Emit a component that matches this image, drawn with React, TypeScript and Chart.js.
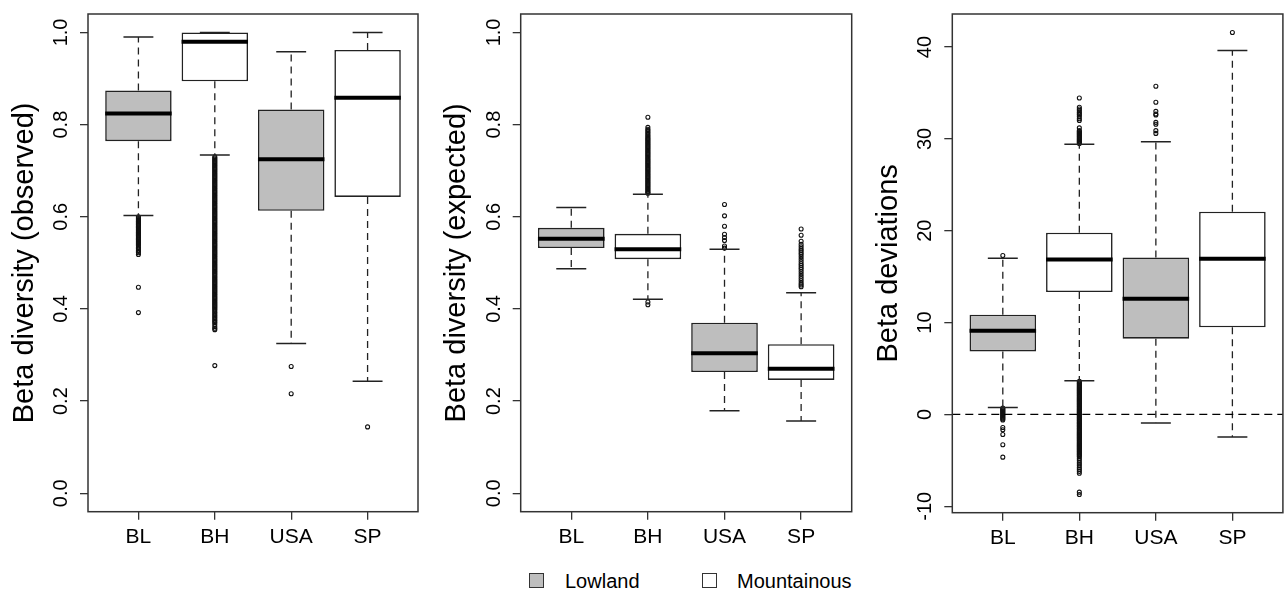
import React, { useEffect, useRef } from 'react';
import { Chart, registerables } from 'chart.js';

Chart.register(...registerables);

// ---- shared categories ----
const categories = ['BL', 'BH', 'USA', 'SP'];
const habitat = ['Lowland', 'Mountainous', 'Lowland', 'Mountainous'];
const legendLabels = ['Lowland', 'Mountainous'];
const habitatFill: Record<string, string> = { Lowland: '#BEBEBE', Mountainous: '#FFFFFF' };

// ---- Beta diversity (observed) ----
const obsWhiskerLow = [0.603, 0.734, 0.325, 0.243];
const obsQ1 = [0.764, 0.894, 0.613, 0.643];
const obsMedian = [0.824, 0.98, 0.725, 0.858];
const obsQ3 = [0.874, 1.0, 0.833, 0.962];
const obsWhiskerHigh = [0.99, 1.0, 0.958, 1.0];
const obsOutBL = [
  0.6, 0.598, 0.596, 0.594, 0.592, 0.59, 0.588, 0.586, 0.584, 0.582, 0.58, 0.578, 0.576, 0.574, 0.572,
  0.57, 0.568, 0.566, 0.564, 0.562, 0.56, 0.558, 0.556, 0.554, 0.552, 0.55, 0.548, 0.546, 0.544, 0.542,
  0.54, 0.537, 0.534, 0.531, 0.528, 0.525, 0.522, 0.518, 0.447, 0.392,
];
const obsOutBH = [
  0.73, 0.7275, 0.725, 0.7225, 0.72, 0.7175, 0.715, 0.7125, 0.71, 0.7075, 0.705, 0.7025, 0.7, 0.6975,
  0.695, 0.6925, 0.69, 0.6875, 0.685, 0.6825, 0.68, 0.6775, 0.675, 0.6725, 0.67, 0.6675, 0.665, 0.6625,
  0.66, 0.6575, 0.655, 0.6525, 0.65, 0.6475, 0.645, 0.6425, 0.64, 0.6375, 0.635, 0.6325, 0.63, 0.6275,
  0.625, 0.6225, 0.62, 0.6175, 0.615, 0.6125, 0.61, 0.6075, 0.605, 0.6025, 0.6, 0.5975, 0.595, 0.5925,
  0.59, 0.5875, 0.585, 0.5825, 0.58, 0.5775, 0.575, 0.5725, 0.57, 0.5675, 0.565, 0.5625, 0.56, 0.5575,
  0.555, 0.5525, 0.55, 0.5475, 0.545, 0.5425, 0.54, 0.5375, 0.535, 0.5325, 0.53, 0.5275, 0.525, 0.5225,
  0.52, 0.5175, 0.515, 0.5125, 0.51, 0.5075, 0.505, 0.5025, 0.5, 0.4975, 0.495, 0.4925, 0.49, 0.4875,
  0.485, 0.4825, 0.48, 0.4775, 0.475, 0.4725, 0.47, 0.4675, 0.465, 0.4625, 0.46, 0.4575, 0.455, 0.4525,
  0.45, 0.4475, 0.445, 0.4425, 0.44, 0.4375, 0.435, 0.4325, 0.43, 0.4275, 0.425, 0.4225, 0.42, 0.4175,
  0.415, 0.4125, 0.41, 0.4075, 0.405, 0.4025, 0.4, 0.397, 0.394, 0.391, 0.388, 0.385, 0.382, 0.379,
  0.376, 0.373, 0.37, 0.366, 0.362, 0.358, 0.355, 0.277,
];
const obsOutUSA = [0.275, 0.216];
const obsOutSP = [0.144];
const obsTicks = [0, 0.2, 0.4, 0.6, 0.8, 1.0];
const obsTickLabels = ['0.0', '0.2', '0.4', '0.6', '0.8', '1.0'];

// ---- Beta diversity (expected) ----
const expWhiskerLow = [0.487, 0.421, 0.179, 0.157];
const expQ1 = [0.532, 0.508, 0.263, 0.246];
const expMedian = [0.5525, 0.5295, 0.304, 0.27];
const expQ3 = [0.576, 0.563, 0.37, 0.3235];
const expWhiskerHigh = [0.62, 0.649, 0.5295, 0.435];
const expOutBL: number[] = [];
const expOutBH = [
  0.816, 0.794, 0.79, 0.787, 0.784, 0.781, 0.778, 0.775, 0.7725, 0.77, 0.7675, 0.765, 0.7625, 0.76,
  0.7575, 0.755, 0.7525, 0.75, 0.7475, 0.745, 0.7425, 0.74, 0.7375, 0.735, 0.7325, 0.73, 0.7275, 0.725,
  0.7225, 0.72, 0.7175, 0.715, 0.7125, 0.71, 0.7075, 0.705, 0.7025, 0.7, 0.6975, 0.695, 0.6925, 0.69,
  0.6875, 0.685, 0.6825, 0.68, 0.6775, 0.675, 0.6725, 0.67, 0.6675, 0.665, 0.6625, 0.66, 0.6575, 0.655,
  0.6525, 0.651, 0.415, 0.409,
];
const expOutUSA = [0.6265, 0.602, 0.5795, 0.562, 0.555, 0.5485, 0.5365, 0.532];
const expOutSP = [
  0.5736, 0.56, 0.547, 0.54, 0.535, 0.53, 0.526, 0.522, 0.518, 0.513, 0.508, 0.503, 0.498, 0.494, 0.49,
  0.486, 0.481, 0.476, 0.471, 0.466, 0.461, 0.456, 0.452, 0.448,
];
const expTicks = [0, 0.2, 0.4, 0.6, 0.8, 1.0];
const expTickLabels = ['0.0', '0.2', '0.4', '0.6', '0.8', '1.0'];

// ---- Beta deviations ----
const devWhiskerLow = [0.76, 3.67, -0.94, -2.47];
const devQ1 = [6.86, 13.32, 8.25, 9.48];
const devMedian = [9.12, 16.88, 12.6, 16.96];
const devQ3 = [10.86, 19.79, 17.1, 22.08];
const devWhiskerHigh = [17.0, 29.41, 29.7, 39.62];
const devOutBL = [
  17.3, 0.7, 0.6, 0.5, 0.4, 0.3, 0.2, 0.1, 0.0, -0.1, -0.2, -0.3, -0.4, -0.5, -0.6,
  -1.42, -1.67, -2.18, -3.3, -4.65,
];
const devOutBH = [
  34.46, 33.44, 33.25, 33.1, 32.9, 32.75, 32.6, 32.4, 32.2, 32.0, 31.2,
  30.9, 30.8, 30.7, 30.6, 30.5, 30.4, 30.3, 30.2, 30.1, 30.0, 29.9, 29.8, 29.7, 29.6, 29.5,
  3.6, 3.5, 3.4, 3.3, 3.2, 3.1, 3.0, 2.9, 2.8, 2.7, 2.6, 2.5, 2.4, 2.3, 2.2, 2.1, 2.0, 1.9, 1.8, 1.7,
  1.6, 1.5, 1.4, 1.3, 1.2, 1.1, 1.0, 0.9, 0.8, 0.7, 0.6, 0.5, 0.4, 0.3, 0.2, 0.1, 0.0, -0.1, -0.2,
  -0.3, -0.4, -0.5, -0.6, -0.7, -0.8, -0.9, -1.0, -1.1, -1.2, -1.3, -1.4, -1.5, -1.6, -1.7, -1.8,
  -1.9, -2.0, -2.1, -2.2, -2.3, -2.4, -2.5, -2.6, -2.7, -2.8, -2.9, -3.0, -3.1, -3.2, -3.3, -3.4,
  -3.5, -3.6, -3.7, -3.8, -3.9, -4.0, -4.1, -4.2, -4.3, -4.4, -4.5, -4.6, -4.8, -5.0, -5.2, -5.4,
  -5.6, -5.8, -6.0, -6.2, -6.4, -8.46, -8.72,
];
const devOutUSA = [35.73, 33.99, 33.0, 32.7, 32.6, 31.8, 31.6, 30.9, 30.6];
const devOutSP = [41.58];
const devTicks = [-10, 0, 10, 20, 30, 40];
const devTickLabels = ['-10', '0', '10', '20', '30', '40'];

const INK = '#222222';
const FONT = "'Liberation Sans', Arial, Helvetica, sans-serif";

interface BoxStats {
  low: number[];
  q1: number[];
  median: number[];
  q3: number[];
  high: number[];
}

// Whiskers, staples, medians, reference line and the plot frame
const boxPlugin = {
  id: 'boxWhiskers',
  afterDatasetDraw(chart: any, args: any, opts: any) {
    if (args.index !== 0 || !opts.stats) return;
    const { ctx } = chart;
    const xs = chart.scales.x;
    const ys = chart.scales.y;
    const meta = chart.getDatasetMeta(0);
    const s: BoxStats = opts.stats;
    ctx.save();
    ctx.strokeStyle = INK;
    ctx.lineCap = 'butt';
    for (let i = 0; i < s.median.length; i++) {
      const el = meta.data[i];
      const cx = xs.getPixelForValue(i + 1);
      const half = el.width / 2;
      const capHalf = half * 0.45;
      const pLo = ys.getPixelForValue(s.low[i]);
      const pQ1 = ys.getPixelForValue(s.q1[i]);
      const pMed = ys.getPixelForValue(s.median[i]);
      const pQ3 = ys.getPixelForValue(s.q3[i]);
      const pHi = ys.getPixelForValue(s.high[i]);
      // dashed whiskers
      ctx.lineWidth = 1.3;
      ctx.setLineDash([7, 5]);
      ctx.beginPath();
      ctx.moveTo(cx, pQ3);
      ctx.lineTo(cx, pHi);
      ctx.moveTo(cx, pQ1);
      ctx.lineTo(cx, pLo);
      ctx.stroke();
      ctx.setLineDash([]);
      // staples
      ctx.lineWidth = 1.5;
      ctx.beginPath();
      ctx.moveTo(cx - capHalf, pHi);
      ctx.lineTo(cx + capHalf, pHi);
      ctx.moveTo(cx - capHalf, pLo);
      ctx.lineTo(cx + capHalf, pLo);
      ctx.stroke();
      // median
      ctx.strokeStyle = '#000';
      ctx.lineWidth = 4;
      ctx.beginPath();
      ctx.moveTo(cx - half, pMed);
      ctx.lineTo(cx + half, pMed);
      ctx.stroke();
      ctx.strokeStyle = INK;
    }
    ctx.restore();
  },
  afterDatasetsDraw(chart: any, _args: any, opts: any) {
    const { ctx, chartArea } = chart;
    const ys = chart.scales.y;
    ctx.save();
    if (opts.refLine !== undefined && opts.refLine !== null) {
      const py = ys.getPixelForValue(opts.refLine);
      ctx.strokeStyle = '#000';
      ctx.lineWidth = 1.3;
      ctx.setLineDash([8, 5]);
      ctx.beginPath();
      ctx.moveTo(chartArea.left, py);
      ctx.lineTo(chartArea.right, py);
      ctx.stroke();
      ctx.setLineDash([]);
    }
    ctx.strokeStyle = '#333';
    ctx.lineWidth = 1.5;
    ctx.strokeRect(chartArea.left, chartArea.top, chartArea.right - chartArea.left, chartArea.bottom - chartArea.top);
    ctx.restore();
  },
};

interface PanelProps {
  left: number;
  width: number;
  height: number;
  yAxisWidth: number;
  padRight: number;
  xAxisHeight: number;
  stats: BoxStats;
  outliers: number[][];
  yMin: number;
  yMax: number;
  yTicks: number[];
  yTickLabels: string[];
  title: string;
  refLine?: number;
}

function BoxPanel(p: PanelProps) {
  const ref = useRef<HTMLCanvasElement | null>(null);
  useEffect(() => {
    if (!ref.current) return;
    const boxes = categories.map((_, i) => ({ x: i + 1, y: [p.stats.q1[i], p.stats.q3[i]] }));
    const points = p.outliers.flatMap((vals, i) => vals.map((v) => ({ x: i + 1, y: v })));
    const gridOpts = {
      display: true,
      drawOnChartArea: false,
      drawTicks: true,
      tickLength: 8,
      color: '#333',
      lineWidth: 1.3,
      offset: false,
    };
    const chart = new Chart(ref.current, {
      type: 'bar',
      data: {
        datasets: [
          {
            type: 'bar',
            data: boxes as any,
            backgroundColor: habitat.map((h) => habitatFill[h]),
            borderColor: INK,
            borderWidth: 1.6,
            borderSkipped: false,
            categoryPercentage: 1,
            barPercentage: 0.87,
          } as any,
          {
            type: 'scatter',
            data: points,
            pointRadius: 2,
            pointBorderWidth: 1.1,
            pointBackgroundColor: 'rgba(0,0,0,0)',
            pointBorderColor: '#111',
            showLine: false,
          } as any,
        ],
      },
      options: {
        responsive: false,
        animation: false,
        devicePixelRatio: 1,
        events: [],
        layout: { padding: { top: 14, right: p.padRight, left: 0, bottom: 0 } },
        plugins: {
          legend: { display: false },
          tooltip: { enabled: false },
          boxWhiskers: { stats: p.stats, refLine: p.refLine },
        } as any,
        scales: {
          x: {
            type: 'linear',
            min: 0.34,
            max: 4.66,
            offset: false,
            afterBuildTicks: (s: any) => {
              s.ticks = categories.map((_, i) => ({ value: i + 1 }));
            },
            afterFit: (s: any) => {
              s.height = p.xAxisHeight;
              s.paddingLeft = 0;
              s.paddingRight = 0;
            },
            ticks: {
              autoSkip: false,
              maxRotation: 0,
              minRotation: 0,
              padding: 4.5,
              color: '#000',
              font: { family: FONT, size: 21 },
              callback: (_v: any, i: number) => categories[i],
            },
            grid: gridOpts,
            border: { display: false },
          },
          y: {
            type: 'linear',
            min: p.yMin,
            max: p.yMax,
            afterBuildTicks: (s: any) => {
              s.ticks = p.yTicks.map((v) => ({ value: v }));
            },
            afterFit: (s: any) => {
              s.width = p.yAxisWidth;
              s.paddingTop = 0;
              s.paddingBottom = 0;
            },
            ticks: {
              minRotation: 90,
              maxRotation: 90,
              crossAlign: 'center',
              padding: 4.2,
              color: '#000',
              font: { family: FONT, size: 20 },
              callback: (_v: any, i: number) => p.yTickLabels[i],
            },
            grid: gridOpts,
            border: { display: false },
            title: {
              display: true,
              text: p.title,
              color: '#000',
              font: { family: FONT, size: 29 },
              padding: { top: 7.6, bottom: 0 },
            },
          },
        },
      } as any,
      plugins: [boxPlugin],
    });
    return () => chart.destroy();
  }, []);
  return (
    <canvas
      ref={ref}
      width={p.width}
      height={p.height}
      style={{ position: 'absolute', left: p.left, top: 0, width: p.width, height: p.height }}
    />
  );
}

const PANEL_H = 560;

export default function App() {
  return (
    <div
      style={{
        position: 'absolute',
        left: 0,
        top: 0,
        width: 1288,
        height: 590,
        background: '#fff',
        overflow: 'hidden',
        fontFamily: FONT,
      }}
    >
      <BoxPanel
        left={0}
        width={430}
        height={PANEL_H}
        yAxisWidth={88}
        padRight={12}
        xAxisHeight={48.3}
        stats={{ low: obsWhiskerLow, q1: obsQ1, median: obsMedian, q3: obsQ3, high: obsWhiskerHigh }}
        outliers={[obsOutBL, obsOutBH, obsOutUSA, obsOutSP]}
        yMin={-0.04}
        yMax={1.04}
        yTicks={obsTicks}
        yTickLabels={obsTickLabels}
        title="Beta diversity (observed)"
      />
      <BoxPanel
        left={432}
        width={430}
        height={PANEL_H}
        yAxisWidth={88.7}
        padRight={10.3}
        xAxisHeight={48.3}
        stats={{ low: expWhiskerLow, q1: expQ1, median: expMedian, q3: expQ3, high: expWhiskerHigh }}
        outliers={[expOutBL, expOutBH, expOutUSA, expOutSP]}
        yMin={-0.04}
        yMax={1.04}
        yTicks={expTicks}
        yTickLabels={expTickLabels}
        title="Beta diversity (expected)"
      />
      <BoxPanel
        left={864}
        width={424}
        height={PANEL_H}
        yAxisWidth={88.3}
        padRight={3}
        xAxisHeight={47.3}
        stats={{ low: devWhiskerLow, q1: devQ1, median: devMedian, q3: devQ3, high: devWhiskerHigh }}
        outliers={[devOutBL, devOutBH, devOutUSA, devOutSP]}
        yMin={-10.7}
        yMax={43.6}
        yTicks={devTicks}
        yTickLabels={devTickLabels}
        title="Beta deviations"
        refLine={0}
      />
      {legendLabels.map((label, i) => (
        <React.Fragment key={label}>
          <div
            style={{
              position: 'absolute',
              left: i === 0 ? 529 : 702,
              top: 573,
              width: 13,
              height: 13,
              border: '1px solid #333',
              background: habitatFill[label],
            }}
          />
          <div
            style={{
              position: 'absolute',
              left: i === 0 ? 565 : 737,
              top: 571,
              fontSize: 20,
              lineHeight: '20px',
              color: '#000',
              whiteSpace: 'nowrap',
            }}
          >
            {label}
          </div>
        </React.Fragment>
      ))}
    </div>
  );
}
